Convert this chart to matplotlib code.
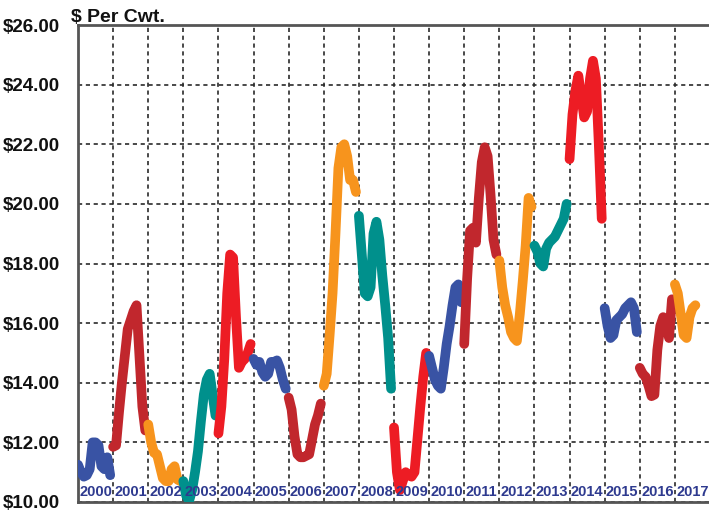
import matplotlib
matplotlib.use("Agg")
import matplotlib.pyplot as plt
import matplotlib.transforms as mtransforms

plt.rcParams['font.family'] = ['Liberation Sans', 'DejaVu Sans']

# ---- data: monthly price ($ per cwt), one list per year ----
years = list(range(2000, 2018))
p2000 = [11.25, 11.0, 10.85, 10.9, 11.1, 12.0, 12.0, 11.9, 11.2, 11.1, 11.5, 10.9]
p2001 = [11.85, 11.9, 13.0, 14.0, 14.9, 15.8, 16.1, 16.4, 16.6, 14.9, 13.2, 12.4]
p2002 = [12.6, 12.0, 11.65, 11.6, 11.2, 10.8, 10.7, 10.7, 11.1, 11.2, 10.75, 10.7]
p2003 = [10.7, 10.2, 10.05, 10.4, 11.0, 11.7, 12.7, 13.6, 14.1, 14.3, 13.6, 12.9]
p2004 = [12.3, 13.2, 14.8, 17.0, 18.3, 18.2, 16.2, 14.5, 14.7, 14.8, 15.0, 15.3]
p2005 = [14.8, 14.6, 14.7, 14.35, 14.2, 14.3, 14.7, 14.7, 14.75, 14.5, 14.1, 13.8]
p2006 = [13.5, 13.1, 12.2, 11.6, 11.5, 11.5, 11.55, 11.6, 12.1, 12.6, 12.9, 13.3]
p2007 = [13.9, 14.3, 15.6, 17.0, 19.0, 21.2, 21.9, 22.0, 21.6, 20.8, 20.8, 20.4]
p2008 = [19.6, 18.3, 17.0, 16.9, 17.2, 19.0, 19.4, 18.8, 17.6, 16.6, 15.5, 13.8]
p2009 = [12.5, 11.0, 10.4, 10.7, 11.0, 10.9, 10.85, 11.0, 12.1, 13.2, 14.2, 15.0]
p2010 = [14.9, 14.5, 14.1, 13.9, 13.8, 14.5, 15.3, 15.9, 16.6, 17.2, 17.3, 16.7]
p2011 = [15.3, 17.5, 19.1, 19.2, 18.7, 20.2, 21.4, 21.9, 21.6, 20.3, 18.8, 18.3]
p2012 = [18.1, 17.2, 16.6, 16.2, 15.7, 15.5, 15.4, 16.3, 17.4, 18.6, 20.2, 19.9]
p2013 = [18.6, 18.4, 18.0, 17.9, 18.5, 18.7, 18.8, 18.9, 19.1, 19.3, 19.5, 20.0]
p2014 = [21.5, 23.0, 23.8, 24.3, 23.6, 22.9, 23.1, 24.2, 24.8, 24.2, 22.0, 19.5]
p2015 = [16.5, 15.9, 15.5, 15.6, 16.1, 16.2, 16.3, 16.5, 16.6, 16.7, 16.5, 15.7]
p2016 = [14.5, 14.3, 14.2, 13.9, 13.55, 13.6, 15.1, 15.9, 16.2, 16.0, 15.5, 16.8]
p2017 = [17.3, 17.0, 16.3, 15.6, 15.5, 16.2, 16.5, 16.6]

series = [p2000, p2001, p2002, p2003, p2004, p2005, p2006, p2007, p2008,
          p2009, p2010, p2011, p2012, p2013, p2014, p2015, p2016, p2017]

palette = ['#3953a4', '#c1272d', '#f7941d', '#00908c', '#ed1c24']

yticks = [10, 12, 14, 16, 18, 20, 22, 24, 26]
ytick_labels = ['$%.2f' % v for v in yticks]

# ---- figure ----
W, H = 709, 515
fig = plt.figure(figsize=(W / 100, H / 100), dpi=100)
ax = fig.add_axes([78 / W, 13 / H, 632 / W, 477 / H])

for i, (yr, vals) in enumerate(zip(years, series)):
    xs = [yr + m / 12 for m in range(len(vals))]
    ax.plot(xs, vals, color=palette[i % 5], lw=7.0,
            solid_capstyle='round', solid_joinstyle='round', zorder=3)

ax.set_xlim(2000, 2018)
ax.set_ylim(10, 26)
ax.set_yticks(yticks)
ax.set_yticklabels(ytick_labels, fontsize=13.5, fontweight='bold', color='#111111')
ax.set_xticks(years + [2018])
ax.set_xticklabels([])
ax.tick_params(axis='both', length=0, pad=13)

ax.grid(True, color='#2a2a2a', linestyle=(0, (2.5, 2.2)), linewidth=1.2, zorder=1)
ax.set_axisbelow(True)

for side in ['left', 'bottom', 'top']:
    ax.spines[side].set_color('#555555')
    ax.spines[side].set_linewidth(2)
ax.spines['right'].set_visible(False)

trans = mtransforms.blended_transform_factory(ax.transData, ax.transAxes)
for yr in years:
    ax.text(yr + 0.5, 0.021, str(yr), transform=trans, ha='center', va='center',
            fontsize=10.5, fontweight='bold', color='#2e3a8f', zorder=5)

fig.text(71 / W, 1 - 22 / H, '$ Per Cwt.', fontsize=14, fontweight='bold',
         color='#111111', ha='left', va='baseline')

fig.savefig('out.png', dpi=100)
